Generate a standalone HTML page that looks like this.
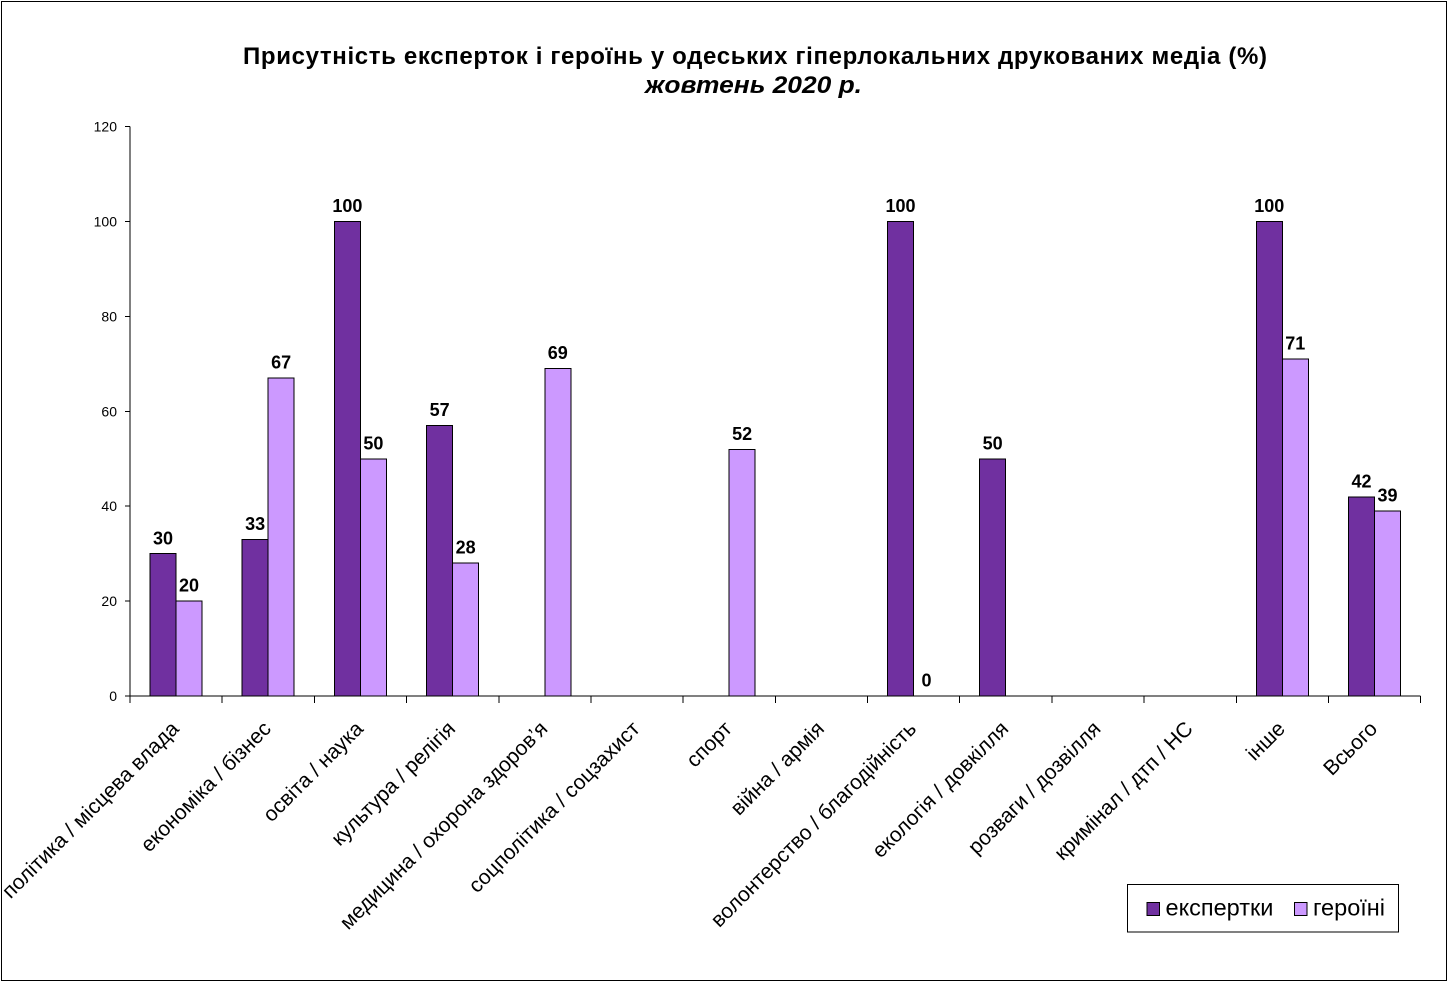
<!DOCTYPE html>
<html>
<head>
<meta charset="utf-8">
<style>
html,body{margin:0;padding:0;background:#fff;}
svg{display:block;font-family:"Liberation Sans",Arial,sans-serif;}
</style>
</head>
<body>
<svg width="1451" height="983" viewBox="0 0 1451 983" xmlns="http://www.w3.org/2000/svg">
<rect x="0" y="0" width="1451" height="983" fill="#fff"/>
<rect x="1.5" y="1.5" width="1445" height="979" fill="none" stroke="#000" stroke-width="1"/>

<!-- Title -->
<text x="243" y="64" font-size="24" font-weight="bold" textLength="1024" lengthAdjust="spacing">Присутність експерток і героїнь у одеських гіперлокальних друкованих медіа (%)</text>
<text x="645" y="93" font-size="24" font-weight="bold" font-style="italic" textLength="217" lengthAdjust="spacingAndGlyphs">жовтень 2020 р.</text>

<!-- Y axis -->
<g stroke="#000" stroke-width="1" shape-rendering="crispEdges">
<line x1="130" y1="126.7" x2="130" y2="696"/>
<line x1="125" y1="126.7" x2="130" y2="126.7"/>
<line x1="125" y1="221.6" x2="130" y2="221.6"/>
<line x1="125" y1="316.5" x2="130" y2="316.5"/>
<line x1="125" y1="411.4" x2="130" y2="411.4"/>
<line x1="125" y1="506.2" x2="130" y2="506.2"/>
<line x1="125" y1="601.1" x2="130" y2="601.1"/>
<line x1="125" y1="696" x2="130" y2="696"/>
</g>
<g font-size="14" text-anchor="end" fill="#000">
<text x="117" y="131.7">120</text>
<text x="117" y="226.6">100</text>
<text x="117" y="321.5">80</text>
<text x="117" y="416.4">60</text>
<text x="117" y="511.2">40</text>
<text x="117" y="606.1">20</text>
<text x="117" y="701">0</text>
</g>

<!-- Bars -->
<g stroke="#000" stroke-width="1" shape-rendering="crispEdges">
<rect x="150" y="553.7" width="26" height="142.3" fill="#7030A0"/>
<rect x="176" y="601.1" width="26" height="94.9" fill="#CC99FF"/>
<rect x="242.2" y="539.4" width="26" height="156.6" fill="#7030A0"/>
<rect x="268.2" y="378.2" width="26" height="317.8" fill="#CC99FF"/>
<rect x="334.4" y="221.6" width="26" height="474.4" fill="#7030A0"/>
<rect x="360.4" y="458.8" width="26" height="237.2" fill="#CC99FF"/>
<rect x="426.6" y="425.6" width="26" height="270.4" fill="#7030A0"/>
<rect x="452.6" y="563.2" width="26" height="132.8" fill="#CC99FF"/>
<rect x="544.8" y="368.7" width="26" height="327.3" fill="#CC99FF"/>
<rect x="729.2" y="449.3" width="26" height="246.7" fill="#CC99FF"/>
<rect x="887.5" y="221.6" width="26" height="474.4" fill="#7030A0"/>
<rect x="979.7" y="458.8" width="26" height="237.2" fill="#7030A0"/>
<rect x="1256.3" y="221.6" width="26" height="474.4" fill="#7030A0"/>
<rect x="1282.3" y="359.2" width="26" height="336.8" fill="#CC99FF"/>
<rect x="1348.5" y="496.8" width="26" height="199.2" fill="#7030A0"/>
<rect x="1374.5" y="511" width="26" height="185" fill="#CC99FF"/>
</g>

<!-- X axis -->
<g stroke="#000" stroke-width="1" shape-rendering="crispEdges">
<line x1="130" y1="696" x2="1420.7" y2="696"/>
<line x1="130" y1="696" x2="130" y2="703"/>
<line x1="222.2" y1="696" x2="222.2" y2="703"/>
<line x1="314.4" y1="696" x2="314.4" y2="703"/>
<line x1="406.6" y1="696" x2="406.6" y2="703"/>
<line x1="498.8" y1="696" x2="498.8" y2="703"/>
<line x1="591" y1="696" x2="591" y2="703"/>
<line x1="683.2" y1="696" x2="683.2" y2="703"/>
<line x1="775.4" y1="696" x2="775.4" y2="703"/>
<line x1="867.5" y1="696" x2="867.5" y2="703"/>
<line x1="959.7" y1="696" x2="959.7" y2="703"/>
<line x1="1051.9" y1="696" x2="1051.9" y2="703"/>
<line x1="1144.1" y1="696" x2="1144.1" y2="703"/>
<line x1="1236.3" y1="696" x2="1236.3" y2="703"/>
<line x1="1328.5" y1="696" x2="1328.5" y2="703"/>
<line x1="1420.7" y1="696" x2="1420.7" y2="703"/>
</g>

<!-- Data labels -->
<g font-size="18" font-weight="bold" text-anchor="middle" fill="#000">
<text x="163" y="544.5">30</text>
<text x="189" y="591.6">20</text>
<text x="255.2" y="529.9">33</text>
<text x="281.2" y="368.7">67</text>
<text x="347.4" y="212.1">100</text>
<text x="373.4" y="449.3">50</text>
<text x="439.6" y="416.1">57</text>
<text x="465.6" y="553.7">28</text>
<text x="557.8" y="359.2">69</text>
<text x="742.2" y="439.8">52</text>
<text x="900.5" y="212.1">100</text>
<text x="926.5" y="686.5">0</text>
<text x="992.7" y="449.3">50</text>
<text x="1269.3" y="212.1">100</text>
<text x="1295.3" y="349.7">71</text>
<text x="1361.5" y="487.3">42</text>
<text x="1387.5" y="501.5">39</text>
</g>

<!-- Category labels -->
<g font-size="21" text-anchor="end" fill="#000">
<text transform="translate(180,730) rotate(-45)">політика / місцева влада</text>
<text transform="translate(272.2,730) rotate(-45)">економіка / бізнес</text>
<text transform="translate(364.4,730) rotate(-45)">освіта / наука</text>
<text transform="translate(456.6,730) rotate(-45)">культура / релігія</text>
<text transform="translate(548.8,730) rotate(-45)">медицина / охорона здоров’я</text>
<text transform="translate(641,730) rotate(-45)">соцполітика / соцзахист</text>
<text transform="translate(733.2,730) rotate(-45)">спорт</text>
<text transform="translate(825.4,730) rotate(-45)">війна / армія</text>
<text transform="translate(917.5,730) rotate(-45)">волонтерство / благодійність</text>
<text transform="translate(1009.7,730) rotate(-45)">екологія / довкілля</text>
<text transform="translate(1101.9,730) rotate(-45)">розваги / дозвілля</text>
<text transform="translate(1194.1,730) rotate(-45)">кримінал / дтп / НС</text>
<text transform="translate(1286.3,730) rotate(-45)">інше</text>
<text transform="translate(1378.5,730) rotate(-45)">Всього</text>
</g>

<!-- Legend -->
<rect x="1127.5" y="884.5" width="271" height="47.5" fill="#fff" stroke="#000" stroke-width="1" shape-rendering="crispEdges"/>
<rect x="1147" y="902.5" width="12.5" height="13" fill="#7030A0" stroke="#000" stroke-width="1" shape-rendering="crispEdges"/>
<text x="1165.5" y="915.7" font-size="23.5" fill="#000">експертки</text>
<rect x="1294.5" y="902.5" width="12.5" height="13" fill="#CC99FF" stroke="#000" stroke-width="1" shape-rendering="crispEdges"/>
<text x="1313" y="915.7" font-size="23.5" fill="#000">героїні</text>
</svg>
</body>
</html>
